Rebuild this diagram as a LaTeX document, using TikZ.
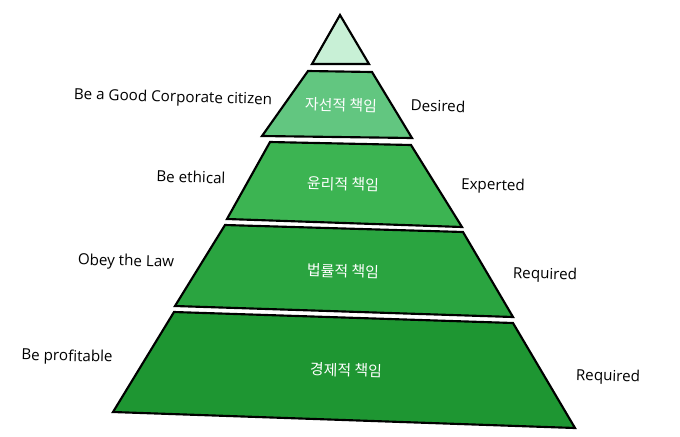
\documentclass[tikz,border=0pt]{standalone}
\usepackage{fontspec}
\setmainfont{Open Sans}
\newfontfamily\kofont{Noto Sans CJK KR}
\usetikzlibrary{positioning}
\definecolor{tierA}{RGB}{200,240,214}
\definecolor{tierB}{RGB}{98,198,128}
\definecolor{tierC}{RGB}{60,180,82}
\definecolor{tierD}{RGB}{42,164,64}
\definecolor{tierE}{RGB}{30,150,50}
\tikzset{
    x=0.75pt, y=-0.75pt, % pixel units, y runs downwards
    tier/.style={draw=black, line width=1.6pt, line join=miter}, % one band of the pyramid
    kolabel/.style={text=white, font=\kofont\fontsize{11.2}{13}\selectfont, rotate=-1.5},
    sidelabel/.style={text=black, font=\fontsize{11.4}{13}\selectfont, rotate=-1.5},
}

\begin{document}
\begin{tikzpicture}
    \useasboundingbox (0,0) rectangle (680,436);
    % bands, top to bottom
    \draw[tier, fill=tierA] (340,15) -- (369,64) -- (312,64) -- cycle;
    \draw[tier, fill=tierB] (308,71) -- (372,72) -- (412,138) -- (262,136) -- cycle;
    \draw[tier, fill=tierC] (270,142) -- (411,145) -- (462,227) -- (227,219) -- cycle;
    \draw[tier, fill=tierD] (225,225) -- (463,232) -- (513,317) -- (175,306) -- cycle;
    \draw[tier, fill=tierE] (174,312) -- (513,323) -- (575,428) -- (113,412) -- cycle;
    % band names
    \node[kolabel] (philan) at (341,105) {자선적 책임};
    \node[kolabel] (ethic) at (343,184) {윤리적 책임};
    \node[kolabel] (legal) at (343,271) {법률적 책임};
    \node[kolabel] (econ) at (346,370) {경제적 책임};
    % left side
    \node[sidelabel] (citizen) at (173,98) {Be a Good Corporate citizen};
    \node[sidelabel] (ethical) at (191,177) {Be ethical};
    \node[sidelabel] (law) at (126,262) {Obey the Law};
    \node[sidelabel] (profit) at (67,357) {Be profitable};
    % right side
    \node[sidelabel] (desired) at (438,106) {Desired};
    \node[sidelabel] (expected) at (493,186) {Experted};
    \node[sidelabel] (reqlaw) at (545,275) {Required};
    \node[sidelabel] (reqecon) at (608,377) {Required};
\end{tikzpicture}
\end{document}
